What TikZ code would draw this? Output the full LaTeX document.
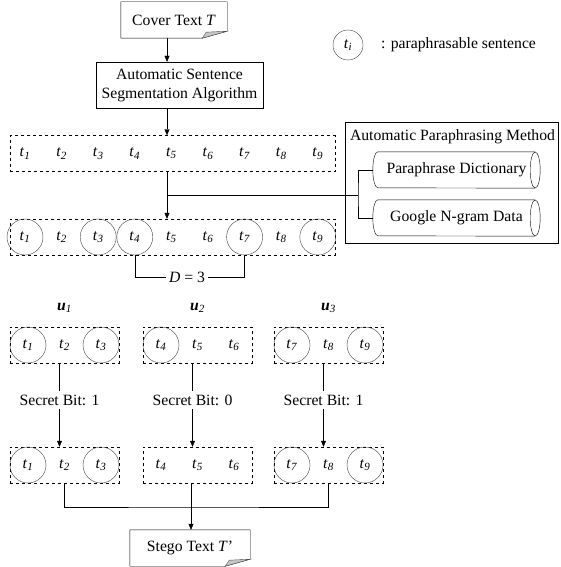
\documentclass[tikz,border=0pt]{standalone}
\usepackage{fontspec}
\setmainfont{Liberation Serif}
\usetikzlibrary{calc,arrows.meta}

\newcommand{\tsub}[1]{\textit{t}\textsubscript{\textit{#1}}}
% document outline with folded corner
\newcommand{\docframe}[1]{%
  \draw (#1.north west) -- (#1.north east) -- ($(#1.south east)+(0,-7)$)
    -- ($(#1.south east)+(-25,0)$) -- (#1.south west) -- cycle;
  \filldraw[fill=gray!45, draw=black!70] ($(#1.south east)+(0,-7)$)
    -- ($(#1.south east)+(-21,-6)$) -- ($(#1.south east)+(-25,0)$) -- cycle;}
% lying cylinder round a node
\newcommand{\drumframe}[1]{%
  \draw ($(#1.north east)+(-5,0)$) -- ($(#1.north west)+(5,0)$)
    arc[start angle=90, end angle=270, x radius=5pt, y radius=18pt]
    -- ($(#1.south east)+(-5,0)$);
  \draw ($(#1.east)+(-5,0)$) ellipse [x radius=5pt, y radius=18pt];}

\begin{document}
\begin{tikzpicture}[x=1pt, y=-1pt, font=\fontsize{15.7}{19}\selectfont,
    >={Triangle[length=6pt,width=5pt]},
    seq/.style={draw, dashed, minimum height=36pt, inner sep=0pt},
    member/.style={circle, minimum size=36pt, inner sep=0pt, draw=#1},
    member/.default=black!75,
    drum/.style={minimum width=167pt, minimum height=36pt, inner sep=0pt}]
    \useasboundingbox (0,0) rectangle (560,567);

    % legend
    \node [member, minimum size=30pt] (key) at (348,45) {\tsub{i}};
    \node [anchor=west, inner sep=0pt] (keytext) at (381,45) {: paraphrasable sentence};

    % input and segmentation
    \node [minimum width=106pt, minimum height=36pt] (cover) at (174,20) {Cover Text \textit{T}};
    \docframe{cover}
    \node [draw, align=center, minimum width=167pt, minimum height=46pt] (seg) at (179.5,85)
        {Automatic Sentence\\Segmentation Algorithm};

    % sentence rows
    \node [seq, minimum width=325pt] (r1) at (172.5,153.5) {};
    \node [seq, minimum width=325pt] (r2) at (172.5,237) {};
    \foreach \i/\c in {1/black!75,2/none,3/black!75,4/black!75,5/none,6/none,7/black!75,8/none,9/black!75} {
        \pgfmathsetmacro{\xx}{25+36.6*(\i-1)}
        \node [member=none] (a\i) at (\xx,153.5) {\tsub{\i}};
        \node [member=\c] (b\i) at (\xx,237) {\tsub{\i}};
    }

    % paraphrasing method
    \node [draw, minimum width=213pt, minimum height=121pt] (method) at (451.5,182.5) {};
    \node [anchor=west, inner sep=0pt] (mtitle) at ($(method.north west)+(5,15)$) {Automatic Paraphrasing Method};
    \node [drum] (dict) at (456.5,170) {Paraphrase Dictionary};
    \drumframe{dict}
    \node [drum] (ngram) at (456.5,218) {Google N-gram Data};
    \drumframe{ngram}

    \coordinate (spine) at (167,0);
    \coordinate (fork) at (358,195);
    \draw [->] (cover.south -| spine) -- (seg.north -| spine);
    \draw [->] (seg.south -| spine) -- (r1.north -| spine);
    \draw [->] (r1.south -| spine) -- (r2.north -| spine);
    \draw (spine |- fork) -- (fork);
    \draw (dict.west) -| (fork) |- (ngram.west);

    % distance
    \node (dist) at (187,277) {\textit{D} = 3};
    \draw (b4.south) |- (dist.west);
    \draw (b7.south) |- (dist.east);

    % groups
    \foreach \g/\cx/\bit/\pa/\pc/\qa in {1/64.5/1/black!75/black!75/black!75,
            2/197.5/0/black!75/none/none, 3/328.5/1/black!75/black!75/black!75} {
        \pgfmathtruncatemacro{\ka}{3*\g-2}
        \pgfmathtruncatemacro{\kb}{3*\g-1}
        \pgfmathtruncatemacro{\kc}{3*\g}
        \node (lab\g) at (\cx,308) {\textbf{\textit{u}}\textsubscript{\textit{\g}}};
        \node [seq, minimum width=109pt] (u\g) at (\cx,345) {};
        \node [member=\pa] at (\cx-36.5,345) {\tsub{\ka}};
        \node [member=none] at (\cx,345) {\tsub{\kb}};
        \node [member=\pc] at (\cx+36.5,345) {\tsub{\kc}};
        \node [seq, minimum width=109pt] (v\g) at (\cx,465) {};
        \node [member=\qa] at (\cx-36.5,465) {\tsub{\ka}};
        \node [member=none] at (\cx,465) {\tsub{\kb}};
        \node [member=\qa] at (\cx+36.5,465) {\tsub{\kc}};
        \node (bit\g) at (\cx-5,400) {Secret Bit: \bit};
        \draw (u\g.south -| bit\g.north) -- (bit\g.north);
        \draw [->] (bit\g.south) -- (bit\g.south |- v\g.north);
    }

    % output
    \node [minimum width=120pt, minimum height=36pt] (stego) at (190,548) {Stego Text \textit{T}’};
    \docframe{stego}
    \coordinate (join) at (191,507);
    \draw (v1.south) |- (join) -| (v3.south);
    \draw (v2.south -| join) -- (join);
    \draw [->] (join) -- (join |- stego.north);
\end{tikzpicture}
\end{document}
